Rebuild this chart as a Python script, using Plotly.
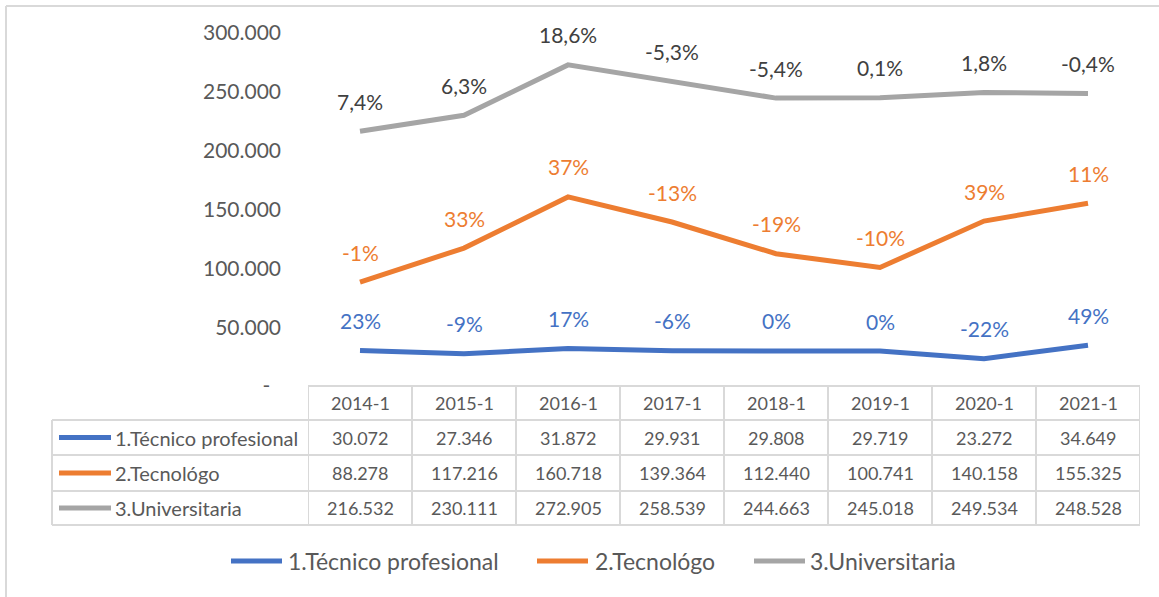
import plotly.graph_objects as go

# ---------------- data ----------------
categories = ["2014-1", "2015-1", "2016-1", "2017-1", "2018-1", "2019-1", "2020-1", "2021-1"]
series_names = ["1.Técnico profesional", "2.Tecnológo", "3.Universitaria"]
tecnico = [30072, 27346, 31872, 29931, 29808, 29719, 23272, 34649]
tecnologo = [88278, 117216, 160718, 139364, 112440, 100741, 140158, 155325]
universitaria = [216532, 230111, 272905, 258539, 244663, 245018, 249534, 248528]
tecnico_labels = ["23%", "-9%", "17%", "-6%", "0%", "0%", "-22%", "49%"]
tecnologo_labels = ["-1%", "33%", "37%", "-13%", "-19%", "-10%", "39%", "11%"]
universitaria_labels = ["7,4%", "6,3%", "18,6%", "-5,3%", "-5,4%", "0,1%", "1,8%", "-0,4%"]
y_tickvals = [0, 50000, 100000, 150000, 200000, 250000, 300000]
y_ticktext = ["-\u00a0\u00a0", "50.000", "100.000", "150.000", "200.000", "250.000", "300.000"]

series_values = [tecnico, tecnologo, universitaria]
series_labels = [tecnico_labels, tecnologo_labels, universitaria_labels]
line_colors = ["#4472C4", "#ED7D31", "#A5A5A5"]
label_colors = ["#4472C4", "#ED7D31", "#404040"]

# ---------------- layout geometry (pixels) ----------------
W, H = 1159, 597
L, R, T, B = 308, 1140, 33, 386
FONT = "Lato"
TXT = "#595959"
GRID = "#D9D9D9"


def px(p):
    return (p - L) / (R - L)


def py(p):
    return (B - p) / (B - T)


def fmt(v):
    return f"{v:,}".replace(",", ".")


fig = go.Figure()
for name, vals, col in zip(series_names, series_values, line_colors):
    fig.add_trace(go.Scatter(x=categories, y=vals, mode="lines", name=name,
                             line=dict(color=col, width=5), showlegend=False,
                             cliponaxis=False, hoverinfo="skip"))

annotations = []
shapes = []

# data labels
for vals, labs, col in zip(series_values, series_labels, label_colors):
    for c, v, t in zip(categories, vals, labs):
        annotations.append(dict(x=c, y=v, xref="x", yref="y", text=t, showarrow=False,
                                xanchor="center", yanchor="middle", yshift=30,
                                font=dict(family=FONT, size=21, color=col)))

# data table
row_edges = [386, 420, 455, 491, 525]
ncat = len(categories)
shapes.append(dict(type="line", xref="x", yref="paper", x0=-0.5, x1=ncat - 0.5,
                   y0=py(row_edges[0]), y1=py(row_edges[0]), line=dict(color=GRID, width=2)))
for e in row_edges[1:]:
    shapes.append(dict(type="line", xref="paper", yref="paper", x0=px(52), x1=1,
                       y0=py(e), y1=py(e), line=dict(color=GRID, width=2)))
for k in range(ncat + 1):
    shapes.append(dict(type="line", xref="x", yref="paper", x0=k - 0.5, x1=k - 0.5,
                       y0=py(row_edges[0]), y1=py(row_edges[-1]), line=dict(color=GRID, width=2)))
shapes.append(dict(type="line", xref="paper", yref="paper", x0=px(52), x1=px(52),
                   y0=py(row_edges[1]), y1=py(row_edges[-1]), line=dict(color=GRID, width=2)))

hc = (row_edges[0] + row_edges[1]) / 2
for c in categories:
    annotations.append(dict(x=c, y=py(hc), xref="x", yref="paper", text=c, showarrow=False,
                            xanchor="center", yanchor="middle",
                            font=dict(family=FONT, size=18, color=TXT)))
for i, (name, vals, col) in enumerate(zip(series_names, series_values, line_colors)):
    rc = (row_edges[i + 1] + row_edges[i + 2]) / 2
    for c, v in zip(categories, vals):
        annotations.append(dict(x=c, y=py(rc), xref="x", yref="paper", text=fmt(v),
                                showarrow=False, xanchor="center", yanchor="middle",
                                font=dict(family=FONT, size=18, color=TXT)))
    shapes.append(dict(type="line", xref="paper", yref="paper", x0=px(59), x1=px(111),
                       y0=py(rc), y1=py(rc), line=dict(color=col, width=5)))
    annotations.append(dict(x=px(113), y=py(rc), xref="paper", yref="paper", text=name,
                            xanchor="left", yanchor="middle", showarrow=False,
                            font=dict(family=FONT, size=20, color=TXT)))

# legend
leg_y = 561
leg_pos = [(229, 284, 286), (535, 590, 593), (752, 807, 808)]
for name, col, (a, b, t) in zip(series_names, line_colors, leg_pos):
    shapes.append(dict(type="line", xref="paper", yref="paper", x0=px(a + 2), x1=px(b - 2),
                       y0=py(leg_y), y1=py(leg_y), line=dict(color=col, width=5)))
    annotations.append(dict(x=px(t), y=py(leg_y), xref="paper", yref="paper", text=name,
                            xanchor="left", yanchor="middle", showarrow=False,
                            font=dict(family=FONT, size=23, color=TXT)))

# outer chart border (left and top visible)
shapes.append(dict(type="line", xref="paper", yref="paper", x0=px(6), x1=px(6),
                   y0=py(6), y1=py(605), line=dict(color=GRID, width=2)))
shapes.append(dict(type="line", xref="paper", yref="paper", x0=px(6), x1=px(1170),
                   y0=py(6), y1=py(6), line=dict(color=GRID, width=2)))

fig.update_layout(
    width=W, height=H,
    margin=dict(l=L, r=W - R, t=T, b=H - B, pad=0),
    paper_bgcolor="white", plot_bgcolor="white",
    font=dict(family=FONT, color=TXT),
    annotations=annotations, shapes=shapes,
    showlegend=False,
    xaxis=dict(type="category", categoryorder="array", categoryarray=categories,
               range=[-0.5, ncat - 0.5], showticklabels=False, showgrid=False,
               zeroline=False, showline=False, ticks=""),
    yaxis=dict(range=[0, 300000], tickvals=y_tickvals, ticktext=y_ticktext,
               showgrid=False, zeroline=False, showline=False, ticks="",
               ticklabelstandoff=26, tickfont=dict(family=FONT, size=21, color=TXT)),
)

fig.write_html("out.html", config={"displayModeBar": False},
               post_script="document.body.style.margin='0';")
